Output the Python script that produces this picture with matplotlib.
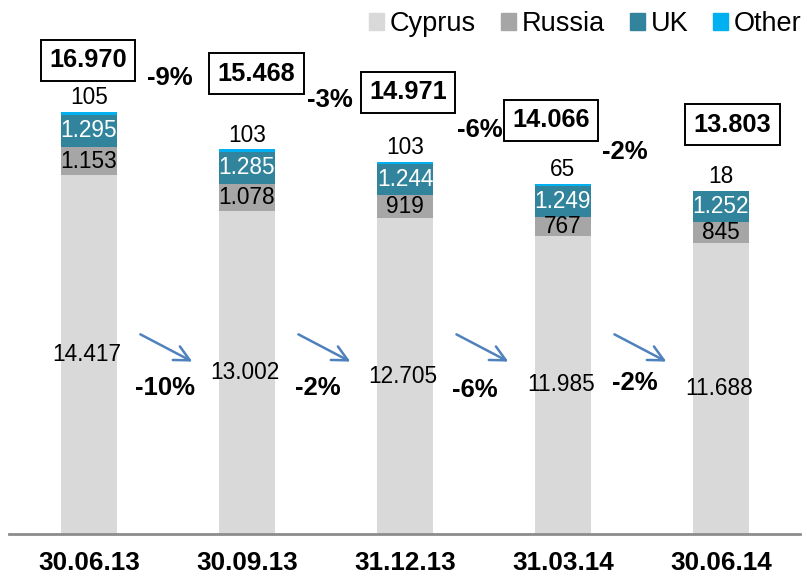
import matplotlib
matplotlib.use("Agg")
import matplotlib.pyplot as plt
from matplotlib.patches import Patch
import numpy as np

plt.rcParams['font.family'] = ['Liberation Sans', 'DejaVu Sans']

# ── Data ───────────────────────────────────────────────────────────────
dates = ['30.06.13', '30.09.13', '31.12.13', '31.03.14', '30.06.14']
cyprus = [14417, 13002, 12705, 11985, 11688]
russia = [1153, 1078, 919, 767, 845]
uk = [1295, 1285, 1244, 1249, 1252]
other = [105, 103, 103, 65, 18]
totals = [16970, 15468, 14971, 14066, 13803]
total_change = ['-9%', '-3%', '-6%', '-2%']
cyprus_change = ['-10%', '-2%', '-6%', '-2%']

colors = {'Cyprus': '#D9D9D9', 'Russia': '#A6A6A6', 'UK': '#31849B', 'Other': '#00B0F0'}


def fmt(v):
    return f"{v:,}".replace(',', '.')


# ── Figure ────────────────────────────────────────────────────────────
W, H = 807, 576
fig = plt.figure(figsize=(W / 100, H / 100), dpi=100)
ax = fig.add_axes([9 / W, 42 / H, 791 / W, 534 / H])
px = 0.02487  # pixels per unit
ax.set_xlim(-0.506, 4.5)
ax.set_ylim(0, 534 / px)

x = np.arange(len(dates))
w = 0.36
c = np.array(cyprus)
r = np.array(russia)
u = np.array(uk)
o = np.array(other)
ax.bar(x, c, w, color=colors['Cyprus'])
ax.bar(x, r, w, bottom=c, color=colors['Russia'])
ax.bar(x, u, w, bottom=c + r, color=colors['UK'])
ax.bar(x, o, w, bottom=c + r + u, color=colors['Other'])

fs = 16.3
for i in range(len(dates)):
    ax.text(x[i] - 0.012, c[i] / 2, fmt(cyprus[i]), ha='center', va='center', fontsize=fs)
    ax.text(x[i], c[i] + r[i] / 2, fmt(russia[i]), ha='center', va='center', fontsize=fs)
    ax.text(x[i], c[i] + r[i] + u[i] / 2, fmt(uk[i]), ha='center', va='center',
            fontsize=fs, color='white')
    ax.text(x[i], totals[i] + 110, fmt(other[i]), ha='center', va='bottom', fontsize=fs)

# boxed totals (positions vary like in the original)
box_dx = [-0.006, 0.06, 0.019, -0.075, 0.073]
box_dy = [2071, 3048, 2786, 2570, 2662]
for i in range(len(dates)):
    ax.text(x[i] + box_dx[i], totals[i] + box_dy[i], fmt(totals[i]), ha='center',
            va='center', fontsize=18.3, fontweight='bold',
            bbox=dict(boxstyle='square,pad=0.33', fc='white', ec='black', lw=1.4))

top_pos = [(0.513, 18335), (1.525, 17450), (2.475, 16244), (3.39, 15360)]
bot_pos = [(0.48, 5870), (1.45, 5870), (2.44, 5790), (3.456, 6071)]
for i in range(len(total_change)):
    ax.text(*top_pos[i], total_change[i], ha='center', va='center',
            fontsize=18.5, fontweight='bold')
    ax.text(*bot_pos[i], cyprus_change[i], ha='center', va='center',
            fontsize=18.5, fontweight='bold')
    ax.annotate('', xy=(i + 0.67, 6880), xytext=(i + 0.31, 8080),
                arrowprops=dict(arrowstyle='->,head_length=1.1,head_width=0.55',
                                color='#4F81BD', lw=1.8))

ax.set_xticks(x)
ax.set_xticklabels(dates, fontsize=18.8, fontweight='bold')
ax.tick_params(axis='x', length=0, pad=12.5)
ax.set_yticks([])
for s in ['top', 'right', 'left']:
    ax.spines[s].set_visible(False)
ax.spines['bottom'].set_color('#8C8C8C')
ax.spines['bottom'].set_linewidth(2)

handles = [Patch(color=colors[k], label=k) for k in colors]
fig.legend(handles=handles, loc='upper right', bbox_to_anchor=(802 / W, 1 - 11 / H), ncol=4,
           frameon=False, fontsize=19.5, handlelength=0.55, handleheight=0.55,
           handletextpad=0.22, columnspacing=0.92, borderpad=0, borderaxespad=0)

fig.savefig('out.png', dpi=100)
